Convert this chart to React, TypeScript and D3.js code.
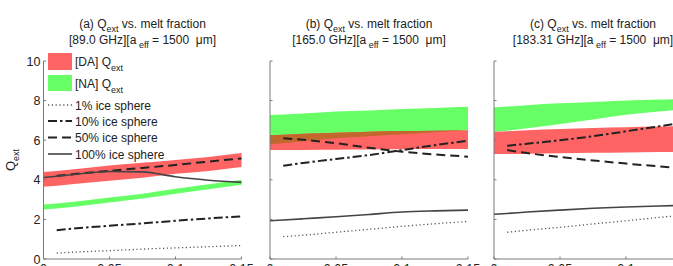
import * as d3 from 'd3';

const melt = [0, 0.01, 0.025, 0.05, 0.075, 0.1, 0.125, 0.15];

const panelTags = ['(a)', '(b)', '(c)'];
const freqs = ['89.0', '165.0', '183.31'];
const yTicks = [0, 2, 4, 6, 8, 10];
const xTicks = [0, 0.05, 0.1, 0.15];
const xTickLabels = ['0', '0.05', '0.1', '0.15'];

// [DA] band
const daLo = [
    [3.65, 3.7, 3.8, 3.95, 4.1, 4.3, 4.45, 4.65],
    [5.5, 5.5, 5.51, 5.52, 5.53, 5.54, 5.55, 5.56],
    [5.3, 5.3, 5.32, 5.34, 5.36, 5.38, 5.4, 5.41]
];
const daHi = [
    [4.4, 4.45, 4.55, 4.72, 4.86, 5.0, 5.15, 5.35],
    [6.26, 6.28, 6.32, 6.38, 6.43, 6.46, 6.48, 6.5],
    [6.43, 6.45, 6.5, 6.56, 6.62, 6.66, 6.69, 6.72]
];
// [NA] band
const naLo = [
    [2.5, 2.55, 2.65, 2.85, 3.05, 3.3, 3.52, 3.75],
    [5.8, 5.85, 5.95, 6.1, 6.2, 6.3, 6.4, 6.5],
    [6.43, 6.48, 6.6, 6.82, 7.05, 7.28, 7.45, 7.6]
];
const naHi = [
    [2.75, 2.8, 2.9, 3.1, 3.3, 3.55, 3.78, 4.0],
    [7.27, 7.3, 7.35, 7.45, 7.5, 7.57, 7.63, 7.69],
    [7.66, 7.7, 7.77, 7.86, 7.93, 8.0, 8.05, 8.08]
];
// ice sphere lines
const ice1 = [
    [null, 0.3, 0.35, 0.42, 0.5, 0.56, 0.62, 0.68],
    [null, 1.13, 1.2, 1.35, 1.5, 1.65, 1.78, 1.9],
    [null, 1.35, 1.45, 1.6, 1.77, 1.93, 2.1, 2.25]
];
const ice10 = [
    [null, 1.45, 1.55, 1.68, 1.8, 1.93, 2.05, 2.15],
    [null, 4.71, 4.85, 5.05, 5.25, 5.5, 5.75, 5.97],
    [null, 5.72, 5.82, 6.0, 6.2, 6.45, 6.7, 6.95]
];
const ice50 = [
    [null, 4.2, 4.3, 4.45, 4.6, 4.75, 4.92, 5.08],
    [null, 6.1, 6.02, 5.85, 5.62, 5.42, 5.28, 5.17],
    [null, 5.5, 5.35, 5.15, 4.98, 4.82, 4.68, 4.55]
];
const ice100 = [
    [4.12, 4.18, 4.28, 4.42, 4.4, 4.15, 3.98, 3.87],
    [1.93, 1.97, 2.03, 2.13, 2.25, 2.37, 2.43, 2.47],
    [2.26, 2.3, 2.37, 2.47, 2.56, 2.63, 2.68, 2.72]
];

const legendLines = ['1% ice sphere', '10% ice sphere', '50% ice sphere', '100% ice sphere'];

const RED = '#ff6464';
const GREEN = '#66ff66';
const BROWN = '#c2682e';
const AXIS = '#7a7a7a';
const font = '"Liberation Sans", Arial, sans-serif';

const W = 673;
const H = 266;
const top = 61;
const bottom = 259;
const panelLeft = [43.5, 270, 494];
const panelW = 198;

const lineStyles = [
    { dash: '1.2,2.6', width: 1.3, color: '#555' },
    { dash: '9,3,2.5,3', width: 2, color: '#222' },
    { dash: '9,5', width: 2, color: '#222' },
    { dash: null, width: 1.6, color: '#444' }
];

type Pt = { x: number; lo: number; hi: number };

function Panel({ i }: { i: number }) {
    const x = d3.scaleLinear().domain([0, 0.15]).range([panelLeft[i], panelLeft[i] + panelW]);
    const y = d3.scaleLinear().domain([0, 10]).range([bottom, top]);

    const band = d3
        .area<Pt>()
        .x((d) => x(d.x))
        .y0((d) => y(d.lo))
        .y1((d) => y(d.hi))
        .curve(d3.curveMonotoneX);

    const da = melt.map((m, k) => ({ x: m, lo: daLo[i][k], hi: daHi[i][k] }));
    const na = melt.map((m, k) => ({ x: m, lo: naLo[i][k], hi: naHi[i][k] }));
    // overlap of both bands
    const both = melt.map((m, k) => {
        const lo = Math.max(daLo[i][k], naLo[i][k]);
        const hi = Math.min(daHi[i][k], naHi[i][k]);
        return { x: m, lo, hi: Math.max(lo, hi) };
    });

    const line = d3
        .line<number | null>()
        .defined((d) => d !== null)
        .x((_, k) => x(melt[k]))
        .y((d) => y(d as number))
        .curve(d3.curveMonotoneX);

    const series = [ice1[i], ice10[i], ice50[i], ice100[i]];
    const cx = panelLeft[i] + panelW / 2;

    return (
        <g>
            <path d={band(na)!} fill={GREEN} />
            <path d={band(da)!} fill={RED} />
            <path d={band(both)!} fill={BROWN} />
            {series.map((s, k) => (
                <path
                    key={k}
                    d={line(s)!}
                    fill="none"
                    stroke={lineStyles[k].color}
                    strokeWidth={lineStyles[k].width}
                    strokeDasharray={lineStyles[k].dash ?? undefined}
                />
            ))}

            {/* axes, ticks point inward */}
            <line x1={x(0)} x2={x(0)} y1={top} y2={bottom} stroke={AXIS} />
            <line x1={x(0)} x2={x(0.15)} y1={bottom} y2={bottom} stroke={AXIS} />
            {yTicks.map((t) => (
                <g key={t}>
                    <line x1={x(0)} x2={x(0) + 2.5} y1={y(t)} y2={y(t)} stroke={AXIS} />
                    {i === 0 && (
                        <text x={x(0) - 3} y={y(t) + 4.5} textAnchor="end" fontSize={12.5} fill="#222">
                            {t}
                        </text>
                    )}
                </g>
            ))}
            {xTicks.map((t, k) => (
                <g key={t}>
                    <line x1={x(t)} x2={x(t)} y1={bottom} y2={bottom - 2.5} stroke={AXIS} />
                    <text x={x(t)} y={bottom + 14} textAnchor="middle" fontSize={12.5} fill="#222">
                        {xTickLabels[k]}
                    </text>
                </g>
            ))}

            <text x={cx} y={28} textAnchor="middle" fontSize={12} fill="#222">
                {panelTags[i]} Q
                <tspan fontSize={9} dy={4}>
                    ext
                </tspan>
                <tspan dy={-4}> vs. melt fraction</tspan>
            </text>
            <text x={cx} y={44} textAnchor="middle" fontSize={12} fill="#222">
                [{freqs[i]} GHz][a
                <tspan fontSize={9} dy={4}>
                    {'\u00a0'}eff
                </tspan>
                <tspan dy={-4}>{' = 1500\u00a0\u00a0μm]'}</tspan>
            </text>
        </g>
    );
}

function Legend() {
    const lx = 48;
    const tx = 75;
    const rows = [105, 121, 137.5, 154];
    return (
        <g fontSize={12} fill="#222">
            <rect x={lx} y={53} width={24} height={17} fill={RED} />
            <rect x={lx} y={75} width={24} height={16} fill={GREEN} />
            <text x={tx} y={66}>
                [DA] Q
                <tspan fontSize={9} dy={5}>
                    ext
                </tspan>
            </text>
            <text x={tx} y={88}>
                [NA] Q
                <tspan fontSize={9} dy={5}>
                    ext
                </tspan>
            </text>
            {legendLines.map((label, k) => (
                <g key={label}>
                    <line
                        x1={lx}
                        x2={lx + 24}
                        y1={rows[k]}
                        y2={rows[k]}
                        stroke={lineStyles[k].color}
                        strokeWidth={lineStyles[k].width}
                        strokeDasharray={lineStyles[k].dash ?? undefined}
                    />
                    <text x={tx} y={rows[k] + 4.5}>
                        {label}
                    </text>
                </g>
            ))}
        </g>
    );
}

export default function App() {
    return (
        <svg
            width={W}
            height={H}
            style={{ position: 'absolute', left: 0, top: 0, background: '#fff' }}
            fontFamily={font}
        >
            {[0, 1, 2].map((i) => (
                <Panel key={i} i={i} />
            ))}
            <Legend />
            <text transform="translate(15,160) rotate(-90)" textAnchor="middle" fontSize={13} fill="#222">
                Q
                <tspan fontSize={9} dy={4}>
                    ext
                </tspan>
            </text>
        </svg>
    );
}
